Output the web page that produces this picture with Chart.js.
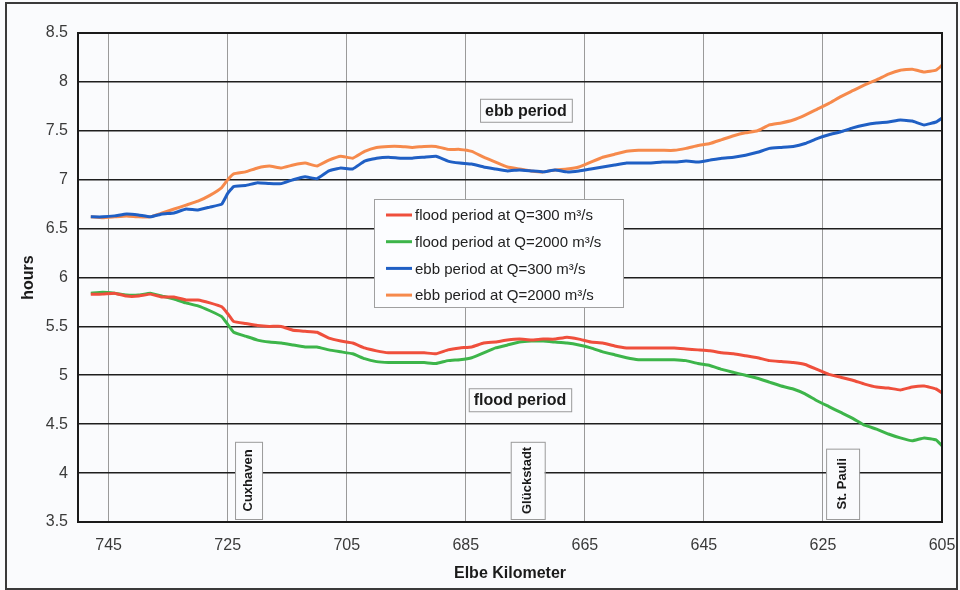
<!DOCTYPE html>
<html>
<head>
<meta charset="utf-8">
<script src="https://cdn.jsdelivr.net/npm/chart.js@4.4.1/dist/chart.umd.min.js"></script>
<style>
  html, body { margin: 0; padding: 0; background: #fafbfd; }
  #wrap { width: 960px; height: 590px; }
</style>
</head>
<body>
<div id="wrap"><canvas id="myChart" width="960" height="590"></canvas></div>
<script>
// Elbe kilometer (x) for every reading
const km = [748, 746, 744, 742, 740, 738, 736, 734, 732, 730, 728, 726, 725, 724, 722, 720,
  718, 716, 714, 712, 710, 708, 706, 704, 702, 700, 698, 696, 694, 692, 690, 688,
  686, 684, 682, 680, 678, 676, 674, 672, 670, 668, 666, 664, 662, 660, 658, 656,
  654, 652, 650, 648, 646, 644, 642, 640, 638, 636, 634, 632, 630, 628, 626, 624,
  622, 620, 618, 616, 614, 612, 610, 608, 606, 605];

// hours
const floodQ300 = [5.83, 5.83, 5.84, 5.81, 5.81, 5.83, 5.80, 5.80, 5.77, 5.77, 5.74, 5.70, 5.63, 5.55, 5.53, 5.51,
  5.50, 5.50, 5.46, 5.45, 5.44, 5.38, 5.35, 5.33, 5.28, 5.25, 5.23, 5.23, 5.23, 5.23, 5.22, 5.26,
  5.28, 5.29, 5.33, 5.34, 5.36, 5.37, 5.36, 5.37, 5.37, 5.39, 5.37, 5.34, 5.33, 5.30, 5.28, 5.28,
  5.28, 5.28, 5.28, 5.27, 5.26, 5.25, 5.23, 5.22, 5.20, 5.18, 5.15, 5.14, 5.13, 5.11, 5.06, 5.01,
  4.98, 4.95, 4.91, 4.88, 4.87, 4.85, 4.88, 4.89, 4.86, 4.82];
const floodQ2000 = [5.84, 5.85, 5.84, 5.82, 5.82, 5.84, 5.81, 5.78, 5.74, 5.71, 5.66, 5.60, 5.52, 5.44, 5.40, 5.36,
  5.34, 5.33, 5.31, 5.29, 5.29, 5.26, 5.24, 5.22, 5.17, 5.14, 5.13, 5.13, 5.13, 5.13, 5.12, 5.15,
  5.16, 5.18, 5.23, 5.28, 5.31, 5.34, 5.35, 5.35, 5.34, 5.33, 5.31, 5.28, 5.24, 5.21, 5.18, 5.16,
  5.16, 5.16, 5.16, 5.15, 5.12, 5.10, 5.06, 5.03, 5.00, 4.97, 4.93, 4.89, 4.86, 4.81, 4.74, 4.68,
  4.62, 4.56, 4.49, 4.45, 4.40, 4.36, 4.33, 4.36, 4.34, 4.28];
const ebbQ300 = [6.62, 6.62, 6.63, 6.65, 6.64, 6.62, 6.65, 6.66, 6.70, 6.69, 6.72, 6.75, 6.86, 6.93, 6.94, 6.97,
  6.96, 6.96, 7.00, 7.03, 7.01, 7.09, 7.12, 7.11, 7.19, 7.22, 7.23, 7.22, 7.22, 7.23, 7.24, 7.19,
  7.17, 7.16, 7.13, 7.11, 7.09, 7.10, 7.09, 7.08, 7.10, 7.08, 7.09, 7.11, 7.13, 7.15, 7.17, 7.17,
  7.17, 7.18, 7.18, 7.19, 7.18, 7.20, 7.22, 7.23, 7.25, 7.28, 7.32, 7.33, 7.34, 7.37, 7.42, 7.46,
  7.49, 7.53, 7.56, 7.58, 7.59, 7.61, 7.60, 7.56, 7.59, 7.63];
const ebbQ2000 = [6.62, 6.61, 6.62, 6.63, 6.62, 6.62, 6.66, 6.70, 6.74, 6.78, 6.84, 6.92, 7.00, 7.06, 7.08, 7.12,
  7.14, 7.12, 7.15, 7.17, 7.14, 7.20, 7.24, 7.22, 7.29, 7.33, 7.34, 7.34, 7.33, 7.34, 7.34, 7.31,
  7.31, 7.29, 7.23, 7.18, 7.13, 7.11, 7.09, 7.08, 7.10, 7.11, 7.13, 7.18, 7.23, 7.26, 7.29, 7.30,
  7.30, 7.30, 7.30, 7.32, 7.35, 7.37, 7.41, 7.45, 7.48, 7.50, 7.56, 7.58, 7.61, 7.66, 7.72, 7.78,
  7.85, 7.91, 7.97, 8.02, 8.08, 8.12, 8.13, 8.10, 8.12, 8.17];

const seriesNames = ["flood period at Q=300 m³/s", "flood period at Q=2000 m³/s",
  "ebb period at Q=300 m³/s", "ebb period at Q=2000 m³/s"];
const xTicks = [605, 625, 645, 665, 685, 705, 725, 745];
const yTicks = [3.5, 4, 4.5, 5, 5.5, 6, 6.5, 7, 7.5, 8, 8.5];

// text boxes, anchored in data units
const periodLabels = [
  { text: "ebb period", km: 674.9, h: 7.71 },
  { text: "flood period", km: 675.9, h: 4.75 }
];
const places = [
  { text: "Cuxhaven", km: 721.5, top: 4.32, w: 27 },
  { text: "Glückstadt", km: 674.6, top: 4.32, w: 34 },
  { text: "St. Pauli", km: 621.7, top: 4.25, w: 33 }
];

const colors = ["#ef4f3c", "#3db54a", "#1f5fc4", "#f68a4c"];
const BG = "#fafbfd";
const FONT = "'Liberation Sans', Arial, sans-serif";
Chart.defaults.font.family = FONT;

const toPoints = (ys) => ys.map((y, i) => ({ x: km[i], y: y }));

const extrasPlugin = {
  id: "extras",
  beforeDraw(chart) {
    const c = chart.ctx;
    c.save();
    c.fillStyle = BG;
    c.fillRect(0, 0, chart.width, chart.height);
    c.restore();
  },
  afterDatasetsDraw(chart) {
    const c = chart.ctx;
    const a = chart.chartArea;
    const xs = chart.scales.x, ys = chart.scales.y;
    c.save();

    // plot frame
    c.strokeStyle = "#1a1a1a";
    c.lineWidth = 2;
    c.strokeRect(a.left, a.top, a.right - a.left, a.bottom - a.top);

    // "ebb period" / "flood period"
    c.font = "bold 16px " + FONT;
    c.textAlign = "center";
    c.textBaseline = "middle";
    periodLabels.forEach(l => {
      const px = xs.getPixelForValue(l.km), py = ys.getPixelForValue(l.h);
      const w = c.measureText(l.text).width + 10, h = 23;
      c.fillStyle = BG;
      c.fillRect(px - w / 2, py - h / 2, w, h);
      c.strokeStyle = "#9a9a9a";
      c.lineWidth = 1;
      c.strokeRect(px - w / 2 + 0.5, py - h / 2 + 0.5, w, h);
      c.fillStyle = "#1a1a1a";
      c.fillText(l.text, px, py + 1);
    });

    // place names, vertical
    c.font = "bold 13px " + FONT;
    places.forEach(p => {
      const px = xs.getPixelForValue(p.km);
      const top = ys.getPixelForValue(p.top);
      const bot = a.bottom - 3;
      c.fillStyle = BG;
      c.fillRect(px - p.w / 2, top, p.w, bot - top);
      c.strokeStyle = "#9a9a9a";
      c.lineWidth = 1;
      c.strokeRect(px - p.w / 2 + 0.5, top + 0.5, p.w, bot - top);
      c.save();
      c.translate(px, (top + bot) / 2);
      c.rotate(-Math.PI / 2);
      c.fillStyle = "#1a1a1a";
      c.fillText(p.text, 0, 0);
      c.restore();
    });

    // legend box
    const lx = a.left + 296, ly = a.top + 166, lw = 249, lh = 108;
    c.fillStyle = "#fcfdff";
    c.fillRect(lx, ly, lw, lh);
    c.strokeStyle = "#a0a0a0";
    c.lineWidth = 1;
    c.strokeRect(lx + 0.5, ly + 0.5, lw, lh);
    c.font = "15px " + FONT;
    c.textAlign = "left";
    seriesNames.forEach((name, i) => {
      const ry = ly + 16 + i * 26.7;
      c.strokeStyle = colors[i];
      c.lineWidth = 3;
      c.beginPath();
      c.moveTo(lx + 12, ry);
      c.lineTo(lx + 38, ry);
      c.stroke();
      c.fillStyle = "#222";
      c.fillText(name, lx + 41, ry + 1);
    });

    c.restore();
  },
  afterDraw(chart) {
    const c = chart.ctx;
    c.save();
    c.strokeStyle = "#3a3a3a";
    c.lineWidth = 2;
    c.strokeRect(6, 3, chart.width - 9, chart.height - 4);
    c.restore();
  }
};

const ctx = document.getElementById("myChart");
const myChart = new Chart(ctx, {
  type: "line",
  data: {
    datasets: [floodQ300, floodQ2000, ebbQ300, ebbQ2000].map((ys, i) => ({
      label: seriesNames[i],
      data: toPoints(ys),
      borderColor: colors[i],
      backgroundColor: colors[i],
      borderWidth: 3,
      pointRadius: 0,
      tension: 0.1,
      fill: false
    }))
  },
  options: {
    responsive: false,
    animation: false,
    layout: { padding: { top: 33, right: 18, left: 0, bottom: 0 } },
    plugins: {
      legend: { display: false },
      tooltip: { enabled: false }
    },
    scales: {
      x: {
        type: "linear",
        reverse: true,
        min: 605,
        max: 750.15,
        afterBuildTicks: (s) => { s.ticks = xTicks.map(v => ({ value: v })); },
        afterFit: (s) => { s.height = 68; },
        grid: { color: "#9a9a9a", lineWidth: 1, drawTicks: false },
        border: { color: "#1a1a1a", width: 2 },
        ticks: { padding: 14, color: "#3a3a3a", font: { size: 16 }, callback: (v) => String(v) },
        title: { display: true, text: "Elbe Kilometer", color: "#1a1a1a",
          font: { size: 16, weight: "bold" }, padding: { top: 0, bottom: 7 } }
      },
      y: {
        min: 3.5,
        max: 8.5,
        afterBuildTicks: (s) => { s.ticks = yTicks.map(v => ({ value: v })); },
        afterFit: (s) => { s.width = 78; },
        grid: { color: "#1e1e1e", lineWidth: 1.6, drawTicks: false },
        border: { color: "#1a1a1a", width: 2 },
        ticks: { padding: 10, color: "#3a3a3a", font: { size: 16 }, callback: (v) => String(v) },
        title: { display: true, text: "hours", color: "#1a1a1a",
          font: { size: 16, weight: "bold" }, padding: { top: 19, bottom: 0 } }
      }
    }
  },
  plugins: [extrasPlugin]
});
</script>
</body>
</html>
